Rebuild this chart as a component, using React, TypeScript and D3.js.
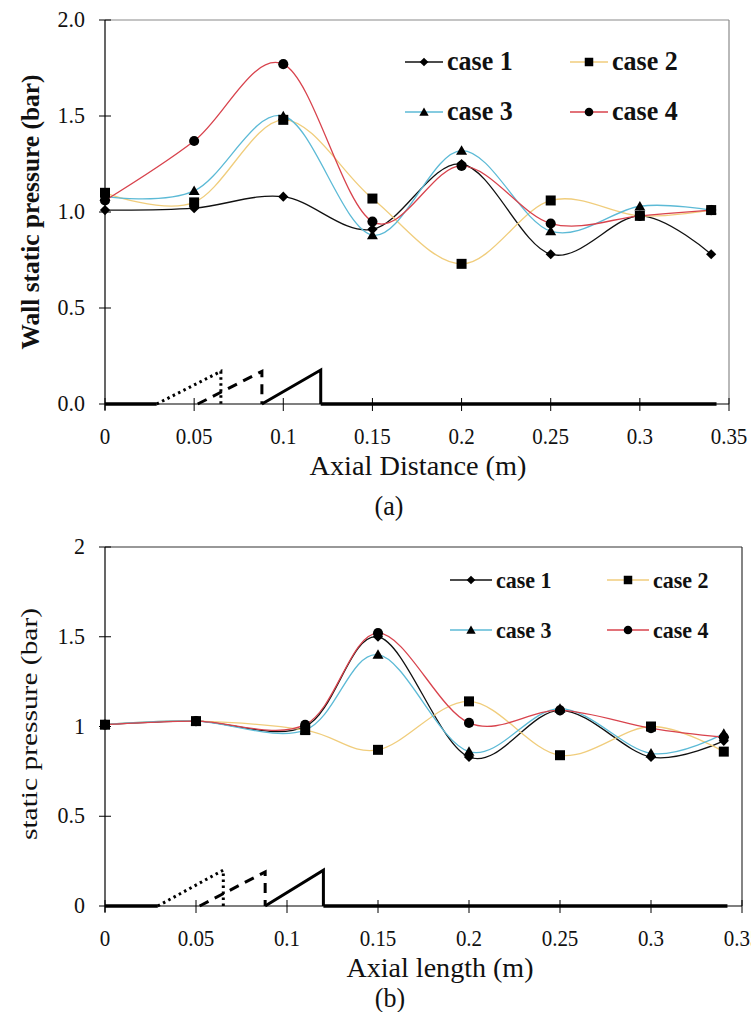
import * as d3 from "d3"

// ---- data ----
const seriesNames = ["case 1", "case 2", "case 3", "case 4"]
const seriesColors = ["#111111", "#f0cd7c", "#5cbad6", "#d8434d"]
const markerKinds = ["diamond", "square", "triangle", "circle"]

// (a) wall static pressure
const xA = [0, 0.05, 0.1, 0.15, 0.2, 0.25, 0.3, 0.34]
const case1A = [1.01, 1.02, 1.08, 0.91, 1.25, 0.78, 0.98, 0.78]
const case2A = [1.1, 1.05, 1.48, 1.07, 0.73, 1.06, 0.98, 1.01]
const case3A = [1.08, 1.11, 1.5, 0.88, 1.32, 0.9, 1.03, 1.01]
const case4A = [1.06, 1.37, 1.77, 0.95, 1.24, 0.94, 0.98, 1.01]

// (b) static pressure
const xB = [0, 0.05, 0.11, 0.15, 0.2, 0.25, 0.3, 0.34]
const case1B = [1.01, 1.03, 1.0, 1.5, 0.83, 1.09, 0.83, 0.92]
const case2B = [1.01, 1.03, 0.98, 0.87, 1.14, 0.84, 1.0, 0.86]
const case3B = [1.01, 1.03, 0.98, 1.4, 0.86, 1.1, 0.85, 0.96]
const case4B = [1.01, 1.03, 1.01, 1.52, 1.02, 1.09, 0.99, 0.94]

const xTickValues = [0, 0.05, 0.1, 0.15, 0.2, 0.25, 0.3, 0.35]
const xTickLabels = ["0", "0.05", "0.1", "0.15", "0.2", "0.25", "0.3", "0.35"]
const yTickValues = [0, 0.5, 1, 1.5, 2]
const yTickLabelsA = ["0.0", "0.5", "1.0", "1.5", "2.0"]
const yTickLabelsB = ["0", "0.5", "1", "1.5", "2"]

// wedge sketches on the wall (x in m, y in bar)
const dottedA = [[0.029, 0], [0.065, 0.17], [0.065, 0]]
const dashedA = [[0.052, 0], [0.088, 0.17], [0.088, 0]]
const solidA = [[0.088, 0], [0.121, 0.177], [0.121, 0]]
const dottedB = [[0.029, 0], [0.065, 0.2], [0.065, 0]]
const dashedB = [[0.052, 0], [0.088, 0.19], [0.088, 0]]
const solidB = [[0.088, 0], [0.12, 0.2], [0.12, 0]]
const wallStart = [[0, 0], [0.029, 0]]
const wallEndA = [[0.121, 0], [0.343, 0]]
const wallEndB = [[0.12, 0], [0.342, 0]]

const serif = "'Liberation Serif', 'Times New Roman', serif"
const SY = 1.08

const Marker = ({ kind, x, y, s = 1 }) => {
  const sym =
    kind === "circle" ? d3.symbolCircle : kind === "triangle" ? d3.symbolTriangle : d3.symbolSquare
  const size = kind === "circle" ? 80 : kind === "triangle" ? 52 : kind === "square" ? 100 : 52
  const rot = kind === "diamond" ? 45 : 0
  return (
    <path
      d={d3.symbol(sym, size * s * s)()}
      transform={`translate(${x},${y + (kind === "triangle" ? 1 : 0)}) rotate(${rot})`}
      fill="#000"
    />
  )
}

const Txt = ({ x, y, size, anchor = "start", bold = false, children, len = undefined }) => (
  <text
    transform={`translate(${x},${y}) scale(1,${SY})`}
    fontFamily={serif}
    fontSize={size}
    fontWeight={bold ? "bold" : "normal"}
    textAnchor={anchor}
    fill="#111"
    textLength={len}
    lengthAdjust={len ? "spacingAndGlyphs" : undefined}
  >
    {children}
  </text>
)

const Panel = ({ p }) => {
  const x = d3.scaleLinear().domain([0, 0.35]).range([p.left, p.right])
  const y = d3.scaleLinear().domain([0, 2]).range([p.bottom, p.top])
  const line = d3
    .line()
    .x((d) => x(d[0]))
    .y((d) => y(d[1]))
    .curve(d3.curveCardinal.tension(0))
  const poly = d3
    .line()
    .x((d) => x(d[0]))
    .y((d) => y(d[1]))

  return (
    <g>
      {/* frame */}
      <line x1={p.left} x2={p.right} y1={p.top} y2={p.top} stroke={p.frame} strokeWidth={1.2} />
      <line x1={p.right} x2={p.right} y1={p.top} y2={p.bottom} stroke={p.frame} strokeWidth={1.2} />
      <line x1={p.left} x2={p.left} y1={p.top} y2={p.bottom + 6} stroke="#000" strokeWidth={1.2} />
      <line x1={p.left} x2={p.right} y1={p.bottom} y2={p.bottom} stroke="#000" strokeWidth={1.2} />

      {/* y ticks */}
      {yTickValues.map((v, i) => (
        <g key={"y" + i}>
          <line x1={p.left - 6} x2={p.left + 6} y1={y(v)} y2={y(v)} stroke="#000" strokeWidth={1} />
          <Txt x={p.left - 20} y={y(v) + 7} size={22} anchor="end">
            {p.yLabels[i]}
          </Txt>
        </g>
      ))}

      {/* x ticks */}
      {xTickValues.map((v, i) => (
        <g key={"x" + i}>
          <line x1={x(v)} x2={x(v)} y1={p.bottom - 6} y2={p.bottom + 7} stroke="#000" strokeWidth={1} />
          <Txt x={x(v)} y={p.bottom + p.tickGap} size={21} anchor="middle">
            {xTickLabels[i]}
          </Txt>
        </g>
      ))}

      {/* wall and wedges */}
      <path d={poly(wallStart)} stroke="#000" strokeWidth={3.5} fill="none" />
      <path d={poly(p.wallEnd)} stroke="#000" strokeWidth={3.5} fill="none" />
      <path d={poly(p.dotted)} stroke="#000" strokeWidth={3} strokeDasharray="2.5,3.5" fill="none" />
      <path d={poly(p.dashed)} stroke="#000" strokeWidth={3} strokeDasharray="10,7" fill="none" />
      <path d={poly(p.solid)} stroke="#000" strokeWidth={3} fill="none" />

      {/* series */}
      {p.series.map((vals, si) => (
        <path
          key={"l" + si}
          d={line(p.xs.map((xv, j) => [xv, vals[j]]))}
          stroke={seriesColors[si]}
          strokeWidth={1.3}
          fill="none"
        />
      ))}
      {p.series.map((vals, si) =>
        vals.map((v, j) => (
          <Marker key={"m" + si + "-" + j} kind={markerKinds[si]} x={x(p.xs[j])} y={y(v)} />
        ))
      )}

      {/* legend */}
      {seriesNames.map((name, si) => {
        const col = si % 2
        const row = Math.floor(si / 2)
        const lx = p.legCols[col]
        const ly = p.legRows[row]
        return (
          <g key={"lg" + si}>
            <line x1={lx} x2={lx + p.legLine} y1={ly} y2={ly} stroke={seriesColors[si]} strokeWidth={1.5} />
            <Marker kind={markerKinds[si]} x={lx + p.legLine / 2} y={ly} s={0.85} />
            <Txt x={lx + p.legLine + 4} y={ly + 8} size={p.legSize} bold>
              {name}
            </Txt>
          </g>
        )
      })}

      {/* titles */}
      <text
        transform={`translate(${p.yTitleX},${p.yTitleY}) rotate(-90)`}
        fontFamily={serif}
        fontSize={p.yTitleSize}
        fontWeight={p.yTitleBold ? "bold" : "normal"}
        textAnchor="middle"
        fill="#111"
        textLength={p.yTitleLen}
        lengthAdjust="spacingAndGlyphs"
      >
        {p.yTitle}
      </text>
      <Txt x={p.xTitleX} y={p.bottom + p.xTitleGap} size={26} anchor="middle" len={p.xTitleLen}>
        {p.xTitle}
      </Txt>
      <Txt x={p.capX} y={p.capY} size={26} anchor="middle">
        {p.caption}
      </Txt>
    </g>
  )
}

const panelA = {
  left: 105,
  right: 729,
  top: 20,
  bottom: 404,
  frame: "#8a8a8a",
  xs: xA,
  series: [case1A, case2A, case3A, case4A],
  yLabels: yTickLabelsA,
  tickGap: 40,
  dotted: dottedA,
  dashed: dashedA,
  solid: solidA,
  wallEnd: wallEndA,
  legCols: [405, 570],
  legRows: [62, 112],
  legLine: 38,
  legSize: 26,
  yTitle: "Wall static pressure (bar)",
  yTitleBold: true,
  yTitleSize: 25,
  yTitleLen: 275,
  yTitleX: 39,
  yTitleY: 212,
  xTitle: "Axial Distance (m)",
  xTitleX: 418,
  xTitleGap: 71,
  xTitleLen: 217,
  caption: "(a)",
  capX: 389,
  capY: 515,
}

const panelB = {
  left: 105,
  right: 742,
  top: 547,
  bottom: 906,
  frame: "#333333",
  xs: xB,
  series: [case1B, case2B, case3B, case4B],
  yLabels: yTickLabelsB,
  tickGap: 40,
  dotted: dottedB,
  dashed: dashedB,
  solid: solidB,
  wallEnd: wallEndB,
  legCols: [450, 607],
  legRows: [580, 630],
  legLine: 42,
  legSize: 22,
  yTitle: "static pressure (bar)",
  yTitleBold: false,
  yTitleSize: 24,
  yTitleLen: 232,
  yTitleX: 37,
  yTitleY: 724,
  xTitle: "Axial length (m)",
  xTitleX: 440,
  xTitleGap: 71,
  xTitleLen: 187,
  caption: "(b)",
  capX: 390,
  capY: 1007,
}

export default function App() {
  return (
    <svg
      width={751}
      height={1012}
      style={{ position: "absolute", left: 0, top: 0, background: "#fff" }}
    >
      <rect width={751} height={1012} fill="#fff" />
      <Panel p={panelA} />
      <Panel p={panelB} />
    </svg>
  )
}
